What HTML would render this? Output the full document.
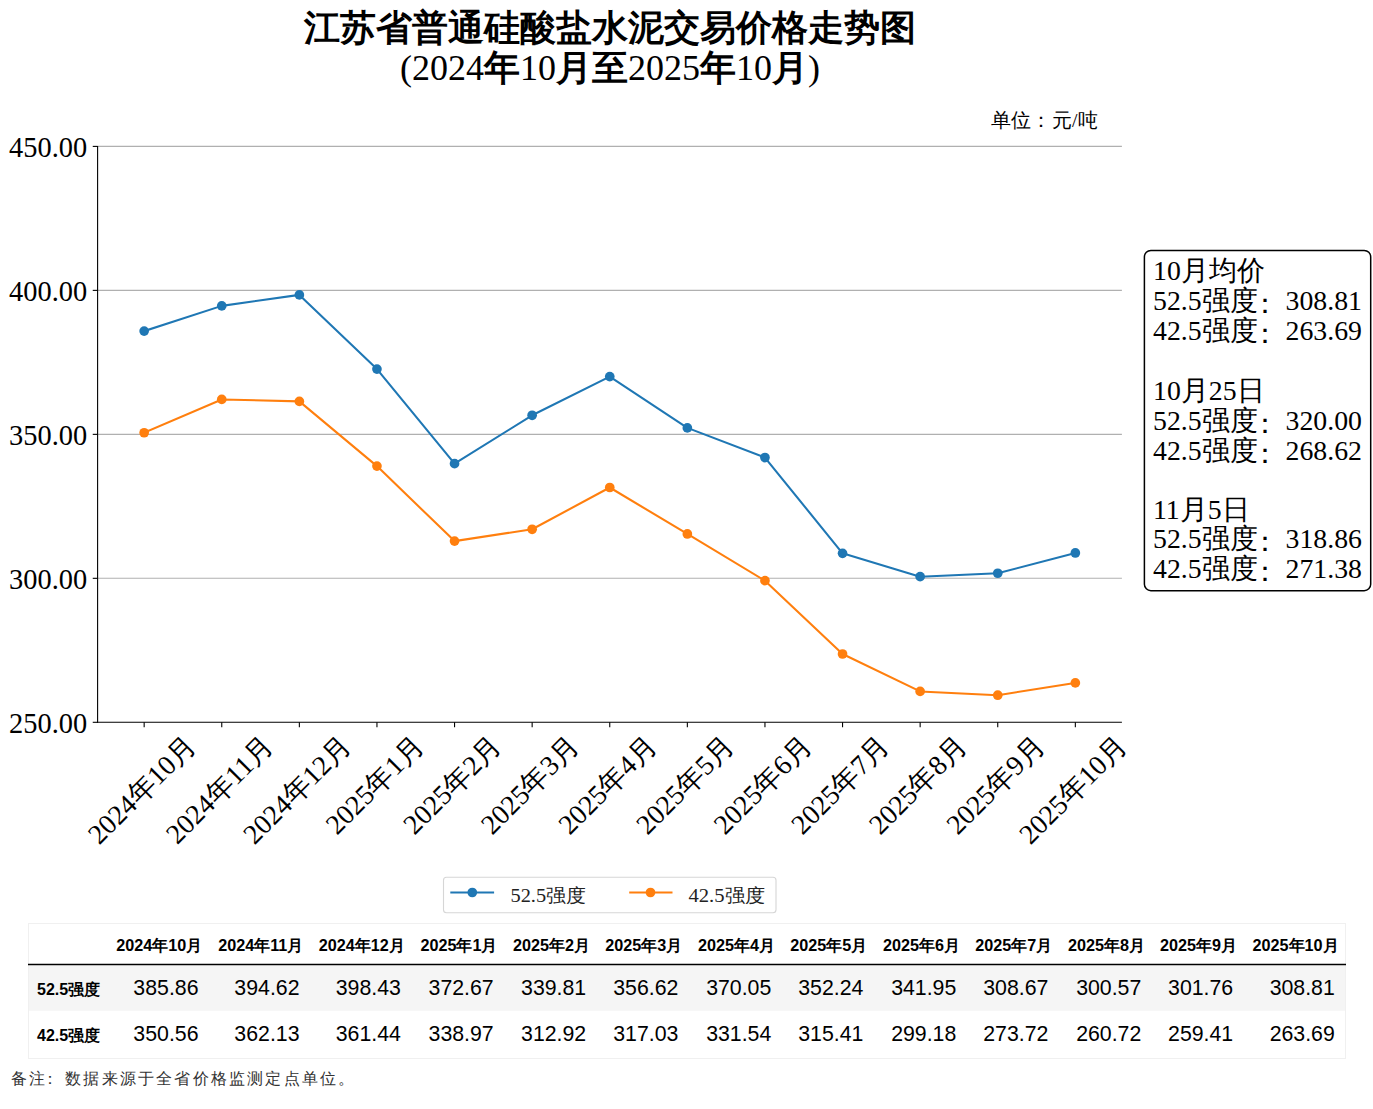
<!DOCTYPE html><html><head><meta charset="utf-8"><style>html,body{margin:0;padding:0;background:#fff;width:1373px;height:1109px;overflow:hidden}svg{display:block}</style></head><body>
<svg width="1373" height="1109" viewBox="0 0 1373 1109">
<rect width="1373" height="1109" fill="#fff"/>
<text x="610" y="40" text-anchor="middle" style="font-family:'Liberation Serif',serif;font-size:36px;font-weight:bold">江苏省普通硅酸盐水泥交易价格走势图</text>
<text x="610" y="80" text-anchor="middle" style="font-family:'Liberation Serif',serif;font-size:36px">(2024<tspan font-weight="bold">年</tspan>10<tspan font-weight="bold">月至</tspan>2025<tspan font-weight="bold">年</tspan>10<tspan font-weight="bold">月</tspan>)</text>
<text x="990.5 1010.5 1030.5 1052 1072 1078" y="127" style="font-family:'Liberation Serif',serif;font-size:19.6px">单位：元/吨</text>
<line x1="97.6" y1="146.40" x2="1121.9" y2="146.40" stroke="#b0b0b0" stroke-width="1.1"/>
<line x1="97.6" y1="290.37" x2="1121.9" y2="290.37" stroke="#b0b0b0" stroke-width="1.1"/>
<line x1="97.6" y1="434.35" x2="1121.9" y2="434.35" stroke="#b0b0b0" stroke-width="1.1"/>
<line x1="97.6" y1="578.32" x2="1121.9" y2="578.32" stroke="#b0b0b0" stroke-width="1.1"/>
<line x1="97.6" y1="145.9" x2="97.6" y2="722.8499999999999" stroke="#000" stroke-width="1.1"/>
<line x1="97.05" y1="722.3" x2="1121.9" y2="722.3" stroke="#000" stroke-width="1.1"/>
<line x1="92.74" y1="146.40" x2="97.6" y2="146.40" stroke="#000" stroke-width="1.1"/>
<text x="87.2" y="157.10" text-anchor="end" style="font-family:'Liberation Serif',serif;font-size:28.4px">450.00</text>
<line x1="92.74" y1="290.37" x2="97.6" y2="290.37" stroke="#000" stroke-width="1.1"/>
<text x="87.2" y="301.07" text-anchor="end" style="font-family:'Liberation Serif',serif;font-size:28.4px">400.00</text>
<line x1="92.74" y1="434.35" x2="97.6" y2="434.35" stroke="#000" stroke-width="1.1"/>
<text x="87.2" y="445.05" text-anchor="end" style="font-family:'Liberation Serif',serif;font-size:28.4px">350.00</text>
<line x1="92.74" y1="578.32" x2="97.6" y2="578.32" stroke="#000" stroke-width="1.1"/>
<text x="87.2" y="589.02" text-anchor="end" style="font-family:'Liberation Serif',serif;font-size:28.4px">300.00</text>
<line x1="92.74" y1="722.30" x2="97.6" y2="722.30" stroke="#000" stroke-width="1.1"/>
<text x="87.2" y="733.00" text-anchor="end" style="font-family:'Liberation Serif',serif;font-size:28.4px">250.00</text>
<line x1="144.16" y1="722.3" x2="144.16" y2="727.16" stroke="#000" stroke-width="1.1"/>
<text transform="translate(142.16,790.00) rotate(-45)" x="0" y="9" text-anchor="middle" style="font-family:'Liberation Serif',serif;font-size:27.78px">2024年10月</text>
<line x1="221.76" y1="722.3" x2="221.76" y2="727.16" stroke="#000" stroke-width="1.1"/>
<text transform="translate(219.76,790.00) rotate(-45)" x="0" y="9" text-anchor="middle" style="font-family:'Liberation Serif',serif;font-size:27.78px">2024年11月</text>
<line x1="299.36" y1="722.3" x2="299.36" y2="727.16" stroke="#000" stroke-width="1.1"/>
<text transform="translate(297.36,790.00) rotate(-45)" x="0" y="9" text-anchor="middle" style="font-family:'Liberation Serif',serif;font-size:27.78px">2024年12月</text>
<line x1="376.95" y1="722.3" x2="376.95" y2="727.16" stroke="#000" stroke-width="1.1"/>
<text transform="translate(374.95,785.09) rotate(-45)" x="0" y="9" text-anchor="middle" style="font-family:'Liberation Serif',serif;font-size:27.78px">2025年1月</text>
<line x1="454.55" y1="722.3" x2="454.55" y2="727.16" stroke="#000" stroke-width="1.1"/>
<text transform="translate(452.55,785.09) rotate(-45)" x="0" y="9" text-anchor="middle" style="font-family:'Liberation Serif',serif;font-size:27.78px">2025年2月</text>
<line x1="532.15" y1="722.3" x2="532.15" y2="727.16" stroke="#000" stroke-width="1.1"/>
<text transform="translate(530.15,785.09) rotate(-45)" x="0" y="9" text-anchor="middle" style="font-family:'Liberation Serif',serif;font-size:27.78px">2025年3月</text>
<line x1="609.75" y1="722.3" x2="609.75" y2="727.16" stroke="#000" stroke-width="1.1"/>
<text transform="translate(607.75,785.09) rotate(-45)" x="0" y="9" text-anchor="middle" style="font-family:'Liberation Serif',serif;font-size:27.78px">2025年4月</text>
<line x1="687.35" y1="722.3" x2="687.35" y2="727.16" stroke="#000" stroke-width="1.1"/>
<text transform="translate(685.35,785.09) rotate(-45)" x="0" y="9" text-anchor="middle" style="font-family:'Liberation Serif',serif;font-size:27.78px">2025年5月</text>
<line x1="764.95" y1="722.3" x2="764.95" y2="727.16" stroke="#000" stroke-width="1.1"/>
<text transform="translate(762.95,785.09) rotate(-45)" x="0" y="9" text-anchor="middle" style="font-family:'Liberation Serif',serif;font-size:27.78px">2025年6月</text>
<line x1="842.55" y1="722.3" x2="842.55" y2="727.16" stroke="#000" stroke-width="1.1"/>
<text transform="translate(840.55,785.09) rotate(-45)" x="0" y="9" text-anchor="middle" style="font-family:'Liberation Serif',serif;font-size:27.78px">2025年7月</text>
<line x1="920.14" y1="722.3" x2="920.14" y2="727.16" stroke="#000" stroke-width="1.1"/>
<text transform="translate(918.14,785.09) rotate(-45)" x="0" y="9" text-anchor="middle" style="font-family:'Liberation Serif',serif;font-size:27.78px">2025年8月</text>
<line x1="997.74" y1="722.3" x2="997.74" y2="727.16" stroke="#000" stroke-width="1.1"/>
<text transform="translate(995.74,785.09) rotate(-45)" x="0" y="9" text-anchor="middle" style="font-family:'Liberation Serif',serif;font-size:27.78px">2025年9月</text>
<line x1="1075.34" y1="722.3" x2="1075.34" y2="727.16" stroke="#000" stroke-width="1.1"/>
<text transform="translate(1073.34,790.00) rotate(-45)" x="0" y="9" text-anchor="middle" style="font-family:'Liberation Serif',serif;font-size:27.78px">2025年10月</text>
<polyline points="144.16,331.09 221.76,305.87 299.36,294.90 376.95,369.07 454.55,463.69 532.15,415.29 609.75,376.62 687.35,427.90 764.95,457.53 842.55,553.36 920.14,576.68 997.74,573.26 1075.34,552.96" fill="none" stroke="#1f77b4" stroke-width="2.08" stroke-linejoin="round" stroke-linecap="square"/><circle cx="144.16" cy="331.09" r="4.85" fill="#1f77b4"/><circle cx="221.76" cy="305.87" r="4.85" fill="#1f77b4"/><circle cx="299.36" cy="294.90" r="4.85" fill="#1f77b4"/><circle cx="376.95" cy="369.07" r="4.85" fill="#1f77b4"/><circle cx="454.55" cy="463.69" r="4.85" fill="#1f77b4"/><circle cx="532.15" cy="415.29" r="4.85" fill="#1f77b4"/><circle cx="609.75" cy="376.62" r="4.85" fill="#1f77b4"/><circle cx="687.35" cy="427.90" r="4.85" fill="#1f77b4"/><circle cx="764.95" cy="457.53" r="4.85" fill="#1f77b4"/><circle cx="842.55" cy="553.36" r="4.85" fill="#1f77b4"/><circle cx="920.14" cy="576.68" r="4.85" fill="#1f77b4"/><circle cx="997.74" cy="573.26" r="4.85" fill="#1f77b4"/><circle cx="1075.34" cy="552.96" r="4.85" fill="#1f77b4"/>
<polyline points="144.16,432.74 221.76,399.42 299.36,401.41 376.95,466.11 454.55,541.12 532.15,529.29 609.75,487.51 687.35,533.95 764.95,580.69 842.55,654.00 920.14,691.43 997.74,695.20 1075.34,682.88" fill="none" stroke="#ff7f0e" stroke-width="2.08" stroke-linejoin="round" stroke-linecap="square"/><circle cx="144.16" cy="432.74" r="4.85" fill="#ff7f0e"/><circle cx="221.76" cy="399.42" r="4.85" fill="#ff7f0e"/><circle cx="299.36" cy="401.41" r="4.85" fill="#ff7f0e"/><circle cx="376.95" cy="466.11" r="4.85" fill="#ff7f0e"/><circle cx="454.55" cy="541.12" r="4.85" fill="#ff7f0e"/><circle cx="532.15" cy="529.29" r="4.85" fill="#ff7f0e"/><circle cx="609.75" cy="487.51" r="4.85" fill="#ff7f0e"/><circle cx="687.35" cy="533.95" r="4.85" fill="#ff7f0e"/><circle cx="764.95" cy="580.69" r="4.85" fill="#ff7f0e"/><circle cx="842.55" cy="654.00" r="4.85" fill="#ff7f0e"/><circle cx="920.14" cy="691.43" r="4.85" fill="#ff7f0e"/><circle cx="997.74" cy="695.20" r="4.85" fill="#ff7f0e"/><circle cx="1075.34" cy="682.88" r="4.85" fill="#ff7f0e"/>
<rect x="1144.4" y="250.4" width="226.3" height="340.3" rx="6.5" ry="6.5" fill="#fff" stroke="#000" stroke-width="1.5"/>
<text x="1153" y="280" style="font-family:'Liberation Serif',serif;font-size:27.78px">10月均价</text>
<text x="1153" y="310" style="font-family:'Liberation Serif',serif;font-size:27.78px">52.5强度<tspan dx="-7" dy="3">：</tspan><tspan dx="7" dy="-3">308.81</tspan></text>
<text x="1153" y="340" style="font-family:'Liberation Serif',serif;font-size:27.78px">42.5强度<tspan dx="-7" dy="3">：</tspan><tspan dx="7" dy="-3">263.69</tspan></text>
<text x="1153" y="400" style="font-family:'Liberation Serif',serif;font-size:27.78px">10月25日</text>
<text x="1153" y="429.5" style="font-family:'Liberation Serif',serif;font-size:27.78px">52.5强度<tspan dx="-7" dy="3">：</tspan><tspan dx="7" dy="-3">320.00</tspan></text>
<text x="1153" y="459.5" style="font-family:'Liberation Serif',serif;font-size:27.78px">42.5强度<tspan dx="-7" dy="3">：</tspan><tspan dx="7" dy="-3">268.62</tspan></text>
<text x="1153" y="518.5" style="font-family:'Liberation Serif',serif;font-size:27.78px">11月5日</text>
<text x="1153" y="548" style="font-family:'Liberation Serif',serif;font-size:27.78px">52.5强度<tspan dx="-7" dy="3">：</tspan><tspan dx="7" dy="-3">318.86</tspan></text>
<text x="1153" y="578" style="font-family:'Liberation Serif',serif;font-size:27.78px">42.5强度<tspan dx="-7" dy="3">：</tspan><tspan dx="7" dy="-3">271.38</tspan></text>
<rect x="443.5" y="877.3" width="332.5" height="35.5" rx="3" ry="3" fill="#fff" stroke="#d6d6d6" stroke-width="1.1"/>
<line x1="450.3" y1="892.5" x2="494.1" y2="892.5" stroke="#1f77b4" stroke-width="2.08"/><circle cx="472.3" cy="892.5" r="4.85" fill="#1f77b4"/>
<text x="510.5" y="902" textLength="75.5" lengthAdjust="spacingAndGlyphs" style="font-family:'Liberation Serif',serif;font-size:19.4px;fill:#222">52.5强度</text>
<line x1="629.2" y1="892.5" x2="672.5" y2="892.5" stroke="#ff7f0e" stroke-width="2.08"/><circle cx="650.5" cy="892.5" r="4.85" fill="#ff7f0e"/>
<text x="688.5" y="902" textLength="76.5" lengthAdjust="spacingAndGlyphs" style="font-family:'Liberation Serif',serif;font-size:19.4px;fill:#222">42.5强度</text>
<rect x="28.5" y="923.5" width="1317" height="135" fill="#fff" stroke="#f0f0f0" stroke-width="1"/>
<rect x="29" y="965.5" width="1316" height="45.3" fill="#f5f5f5"/>
<line x1="28" y1="964.5" x2="1346" y2="964.5" stroke="#000" stroke-width="1.4"/>
<text x="202.3" y="951" text-anchor="end" style="font-family:'Liberation Sans',sans-serif;font-size:16.2px;font-weight:bold">2024年10月</text>
<text x="198.5" y="995" text-anchor="end" style="font-family:'Liberation Sans',sans-serif;font-size:21.3px">385.86</text>
<text x="198.5" y="1040.5" text-anchor="end" style="font-family:'Liberation Sans',sans-serif;font-size:21.3px">350.56</text>
<text x="303.3" y="951" text-anchor="end" style="font-family:'Liberation Sans',sans-serif;font-size:16.2px;font-weight:bold">2024年11月</text>
<text x="299.5" y="995" text-anchor="end" style="font-family:'Liberation Sans',sans-serif;font-size:21.3px">394.62</text>
<text x="299.5" y="1040.5" text-anchor="end" style="font-family:'Liberation Sans',sans-serif;font-size:21.3px">362.13</text>
<text x="404.7" y="951" text-anchor="end" style="font-family:'Liberation Sans',sans-serif;font-size:16.2px;font-weight:bold">2024年12月</text>
<text x="400.9" y="995" text-anchor="end" style="font-family:'Liberation Sans',sans-serif;font-size:21.3px">398.43</text>
<text x="400.9" y="1040.5" text-anchor="end" style="font-family:'Liberation Sans',sans-serif;font-size:21.3px">361.44</text>
<text x="497.5" y="951" text-anchor="end" style="font-family:'Liberation Sans',sans-serif;font-size:16.2px;font-weight:bold">2025年1月</text>
<text x="493.7" y="995" text-anchor="end" style="font-family:'Liberation Sans',sans-serif;font-size:21.3px">372.67</text>
<text x="493.7" y="1040.5" text-anchor="end" style="font-family:'Liberation Sans',sans-serif;font-size:21.3px">338.97</text>
<text x="590.0" y="951" text-anchor="end" style="font-family:'Liberation Sans',sans-serif;font-size:16.2px;font-weight:bold">2025年2月</text>
<text x="586.2" y="995" text-anchor="end" style="font-family:'Liberation Sans',sans-serif;font-size:21.3px">339.81</text>
<text x="586.2" y="1040.5" text-anchor="end" style="font-family:'Liberation Sans',sans-serif;font-size:21.3px">312.92</text>
<text x="682.1999999999999" y="951" text-anchor="end" style="font-family:'Liberation Sans',sans-serif;font-size:16.2px;font-weight:bold">2025年3月</text>
<text x="678.4" y="995" text-anchor="end" style="font-family:'Liberation Sans',sans-serif;font-size:21.3px">356.62</text>
<text x="678.4" y="1040.5" text-anchor="end" style="font-family:'Liberation Sans',sans-serif;font-size:21.3px">317.03</text>
<text x="775.0999999999999" y="951" text-anchor="end" style="font-family:'Liberation Sans',sans-serif;font-size:16.2px;font-weight:bold">2025年4月</text>
<text x="771.3" y="995" text-anchor="end" style="font-family:'Liberation Sans',sans-serif;font-size:21.3px">370.05</text>
<text x="771.3" y="1040.5" text-anchor="end" style="font-family:'Liberation Sans',sans-serif;font-size:21.3px">331.54</text>
<text x="867.1999999999999" y="951" text-anchor="end" style="font-family:'Liberation Sans',sans-serif;font-size:16.2px;font-weight:bold">2025年5月</text>
<text x="863.4" y="995" text-anchor="end" style="font-family:'Liberation Sans',sans-serif;font-size:21.3px">352.24</text>
<text x="863.4" y="1040.5" text-anchor="end" style="font-family:'Liberation Sans',sans-serif;font-size:21.3px">315.41</text>
<text x="960.0999999999999" y="951" text-anchor="end" style="font-family:'Liberation Sans',sans-serif;font-size:16.2px;font-weight:bold">2025年6月</text>
<text x="956.3" y="995" text-anchor="end" style="font-family:'Liberation Sans',sans-serif;font-size:21.3px">341.95</text>
<text x="956.3" y="1040.5" text-anchor="end" style="font-family:'Liberation Sans',sans-serif;font-size:21.3px">299.18</text>
<text x="1052.2" y="951" text-anchor="end" style="font-family:'Liberation Sans',sans-serif;font-size:16.2px;font-weight:bold">2025年7月</text>
<text x="1048.4" y="995" text-anchor="end" style="font-family:'Liberation Sans',sans-serif;font-size:21.3px">308.67</text>
<text x="1048.4" y="1040.5" text-anchor="end" style="font-family:'Liberation Sans',sans-serif;font-size:21.3px">273.72</text>
<text x="1145.1" y="951" text-anchor="end" style="font-family:'Liberation Sans',sans-serif;font-size:16.2px;font-weight:bold">2025年8月</text>
<text x="1141.3" y="995" text-anchor="end" style="font-family:'Liberation Sans',sans-serif;font-size:21.3px">300.57</text>
<text x="1141.3" y="1040.5" text-anchor="end" style="font-family:'Liberation Sans',sans-serif;font-size:21.3px">260.72</text>
<text x="1237.0" y="951" text-anchor="end" style="font-family:'Liberation Sans',sans-serif;font-size:16.2px;font-weight:bold">2025年9月</text>
<text x="1233.2" y="995" text-anchor="end" style="font-family:'Liberation Sans',sans-serif;font-size:21.3px">301.76</text>
<text x="1233.2" y="1040.5" text-anchor="end" style="font-family:'Liberation Sans',sans-serif;font-size:21.3px">259.41</text>
<text x="1338.6" y="951" text-anchor="end" style="font-family:'Liberation Sans',sans-serif;font-size:16.2px;font-weight:bold">2025年10月</text>
<text x="1334.8" y="995" text-anchor="end" style="font-family:'Liberation Sans',sans-serif;font-size:21.3px">308.81</text>
<text x="1334.8" y="1040.5" text-anchor="end" style="font-family:'Liberation Sans',sans-serif;font-size:21.3px">263.69</text>
<text x="37" y="995" style="font-family:'Liberation Sans',sans-serif;font-size:16px;font-weight:bold">52.5强度</text>
<text x="37" y="1040.5" style="font-family:'Liberation Sans',sans-serif;font-size:16px;font-weight:bold">42.5强度</text>
<text x="10.5" y="1084" style="font-family:'Liberation Serif',serif;font-size:16px;letter-spacing:2.2px;fill:#333">备注<tspan dx="-4.5">：</tspan><tspan dx="4.5">数据来源于全省价格监测定点单位。</tspan></text>
</svg></body></html>
